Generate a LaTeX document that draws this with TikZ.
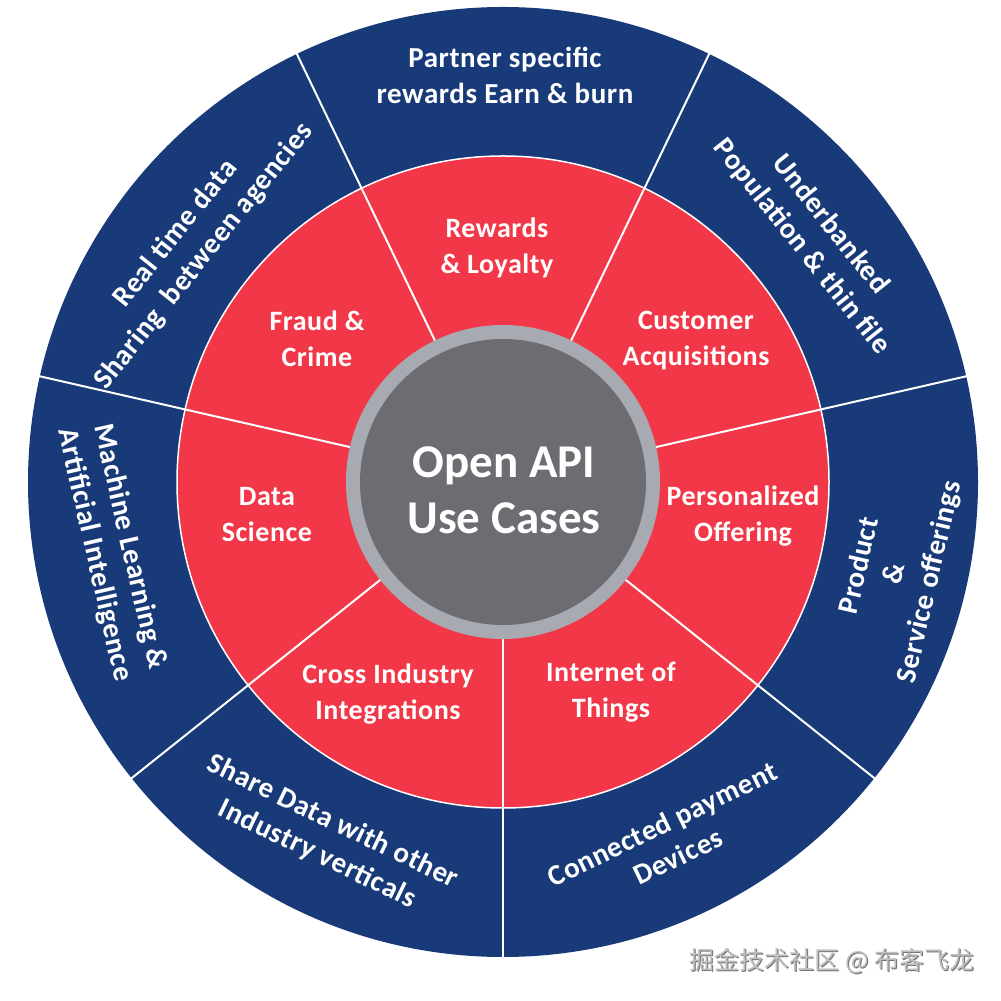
\documentclass[tikz,border=0pt]{standalone}
\usepackage{fontspec}
\setmainfont{Carlito}
\newfontfamily\lblfont[LetterSpace=2.0]{Carlito}
\newfontfamily\cjk{Noto Sans CJK SC}
\usetikzlibrary{calc}
\definecolor{navy}{RGB}{24,58,120}
\definecolor{redseg}{RGB}{242,56,72}
\definecolor{hubdark}{RGB}{108,108,114}
\definecolor{hubring}{RGB}{168,170,178}
\begin{document}
\begin{tikzpicture}[x=1pt,y=1pt,
  redlbl/.style={text=white, font=\lblfont\bfseries\fontsize{28}{36}\selectfont, align=center, inner sep=0pt},
  bluelbl/.style={text=white, font=\lblfont\bfseries\fontsize{29}{36}\selectfont, align=center, inner sep=0pt},
  hublbl/.style={text=white, font=\bfseries\fontsize{47}{56}\selectfont, align=center, inner sep=0pt},
  divider/.style={draw=white, line width=2pt},
  wmark/.style={font=\cjk\fontsize{25}{25}\selectfont, inner sep=0pt}]
\useasboundingbox (0,0) rectangle (1001,1001);
\fill[white] (0,0) rectangle (1001,1001);
\coordinate (C) at (503,519);
% rings
\fill[navy] (C) circle (475);
\fill[redseg] (C) circle (326);
\draw[white, line width=1.5pt] (C) circle (326);
\foreach \k in {0,...,6} {
  \draw[divider] ($(C)+(-90+\k*51.4286:150)$) -- ($(C)+(-90+\k*51.4286:476)$);
}
\fill[hubring] (C) circle (157);
\fill[hubdark] (C) circle (143);
\node[hublbl] (hub) at (504,511) {Open API\\Use Cases};
% red ring labels
\node[redlbl] (rewards)  at (497,753) {Rewards\\\& Loyalty};
\node[redlbl] (customer) at (696,660) {Customer\\Acquisitions};
\node[redlbl] (personal) at (743,485) {Personalized\\Offering};
\node[redlbl] (iot)      at (611,309) {Internet of\\Things};
\node[redlbl] (cross)    at (388,307) {Cross Industry\\Integrations};
\node[redlbl] (datasci)  at (267,486) {Data\\Science};
\node[redlbl] (fraud)    at (317,662) {Fraud \&\\Crime};
% blue ring labels
\node[bluelbl] (partner)  at (505,926) {Partner specific\\rewards Earn \& burn};
\node[bluelbl, rotate=-51.43] (underbanked) at (816,765) {Underbanked\\Population \& thin file};
\node[bluelbl, rotate=77.14] (product) at (895,427) {Product\\\&\\Service offerings};
\node[bluelbl, rotate=25.71] (connected) at (670,161) {Connected payment\\Devices};
\node[bluelbl, rotate=-25.71] (share) at (325,163) {Share Data with other\\Industry verticals};
\node[bluelbl, rotate=-77.14] (ml) at (112,450) {Machine Learning \&\\Artificial Intelligence};
\node[bluelbl, rotate=51.43] (realtime) at (190,756) {Real time data\\Sharing\ \ between agencies};
% watermark
\node[wmark, text=black!55] at (833,39) {掘金技术社区 @ 布客飞龙};
\node[wmark, text=black!25] (wm) at (832,40) {掘金技术社区 @ 布客飞龙};
\end{tikzpicture}
\end{document}
